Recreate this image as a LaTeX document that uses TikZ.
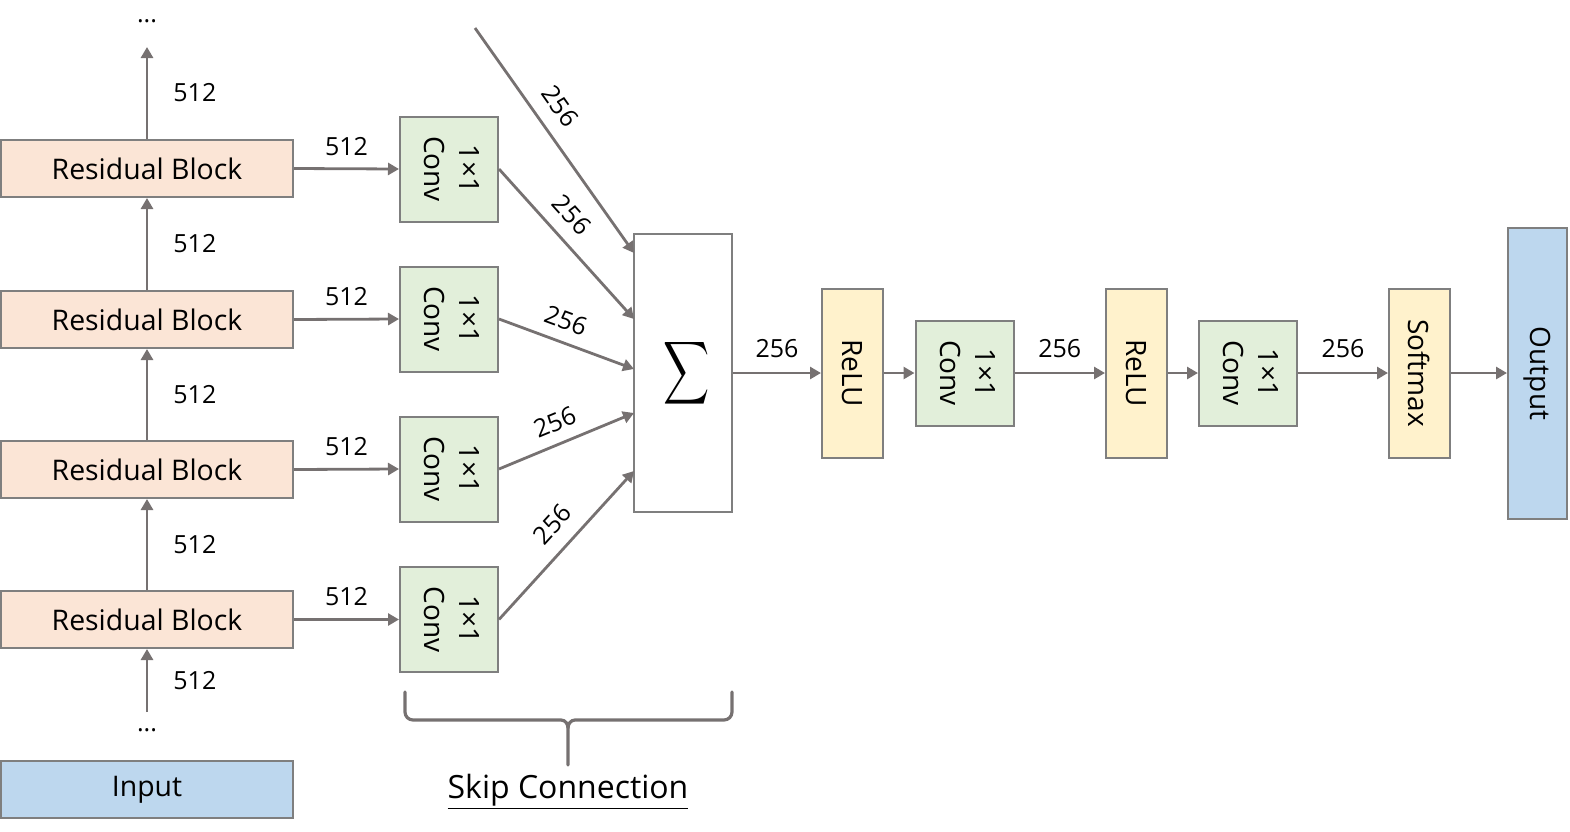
\documentclass[tikz,border=0pt]{standalone}
\usepackage{fontspec}
\setmainfont{Open Sans}
\usepackage{graphicx}
\usetikzlibrary{arrows.meta}
\definecolor{lgray}{HTML}{767171}
\definecolor{bgray}{HTML}{7F7F7F}
\definecolor{peach}{HTML}{FBE5D6}
\definecolor{lgreen}{HTML}{E2EFDA}
\definecolor{lyellow}{HTML}{FFF2CC}
\definecolor{lblue}{HTML}{BDD7EE}
\newcommand{\vtext}[1]{\rotatebox{-90}{\begin{tabular}{@{}c@{}}#1\end{tabular}}}
\begin{document}
\begin{tikzpicture}[x=0.5pt,y=-0.5pt,
 box/.style={draw=bgray,line width=1pt,inner sep=0pt,font=\fontsize{14.2}{17.5}\selectfont},
 resblk/.style={box,fill=peach,minimum width=146pt,minimum height=28.5pt},
 inblk/.style={box,fill=lblue,minimum width=146pt,minimum height=28.5pt},
 convblk/.style={box,fill=lgreen,minimum width=49pt,minimum height=52.5pt,font=\fontsize{14}{17.5}\selectfont},
 actblk/.style={box,fill=lyellow,minimum width=30.5pt,minimum height=84.5pt,font=\fontsize{14}{17.5}\selectfont},
 outblk/.style={box,fill=lblue,minimum width=29.5pt,minimum height=145.5pt,font=\fontsize{14}{17.5}\selectfont},
 sumblk/.style={box,fill=white,minimum width=49pt,minimum height=139pt},
 arr/.style={draw=lgray,line width=1.4pt,-{Triangle[length=5.5pt,width=6pt]}},
 lab/.style={font=\fontsize{12.5}{15}\selectfont,inner sep=2pt},
 brace/.style={draw=lgray,line width=1.6pt,line cap=round}
]
\useasboundingbox (0,0) rectangle (1570,831);

% residual column
\node[resblk] (r1) at (147,168.5) {Residual Block};
\node[resblk] (r2) at (147,319.5) {Residual Block};
\node[resblk] (r3) at (147,469.5) {Residual Block};
\node[resblk] (r4) at (147,619.5) {Residual Block};
\node[inblk] (in) at (147,789.5) {Input};
\node[lab,anchor=base] (dtop) at (147,22) {...};
\node[lab,anchor=base] (dbot) at (147,731) {...};
\coordinate (topend) at (147,47);
\coordinate (botstart) at (147,712);

\draw[arr] (r1.north) -- node[lab,right=10.5pt]{512} (topend);
\draw[arr] (r2.north) -- node[lab,right=10.5pt]{512} (r1.south);
\draw[arr] (r3.north) -- node[lab,right=10.5pt]{512} (r2.south);
\draw[arr] (r4.north) -- node[lab,right=10.5pt]{512} (r3.south);
\draw[arr] (botstart) -- node[lab,right=10.5pt]{512} (r4.south);

% conv column
\node[convblk] (c1) at (449,169) {\vtext{1×1\\Conv}};
\node[convblk] (c2) at (449,319) {\vtext{1×1\\Conv}};
\node[convblk] (c3) at (449,469) {\vtext{1×1\\Conv}};
\node[convblk] (c4) at (449,619.5) {\vtext{1×1\\Conv}};

\draw[arr] (r1.east) -- node[lab,above=4pt]{512} (c1.west);
\draw[arr] (r2.east) -- node[lab,above=4pt]{512} (c2.west);
\draw[arr] (r3.east) -- node[lab,above=4pt]{512} (c3.west);
\draw[arr] (r4.east) -- node[lab,above=4pt]{512} (c4.west);

% sum
\node[sumblk] (sig) at (683,373) {\hspace{3.5pt}\raisebox{-3pt}{\scalebox{1.6}[2.2]{$\displaystyle\sum$}}};
\coordinate (s0) at (634,253);
\coordinate (s1) at (634,319);
\coordinate (s2) at (634,369);
\coordinate (s3) at (634,413);
\coordinate (s4) at (634,471);
\coordinate (topin) at (475,28);

\draw[arr] (topin) -- node[lab,sloped,above=5pt,pos=0.41]{256} (s0);
\draw[arr] (c1.east) -- node[lab,sloped,above=4.5pt,pos=0.41]{256} (s1);
\draw[arr] (c2.east) -- node[lab,sloped,above=3.5pt,pos=0.44]{256} (s2);
\draw[arr] (c3.east) -- node[lab,sloped,above=3.5pt,pos=0.475]{256} (s3);
\draw[arr] (c4.east) -- node[lab,sloped,above=5pt,pos=0.53]{256} (s4);

% output chain
\node[actblk] (relu1) at (852.5,373) {\rotatebox{-90}{ReLU}};
\node[convblk] (ca) at (964.5,373) {\vtext{1×1\\Conv}};
\node[actblk] (relu2) at (1136.5,373) {\rotatebox{-90}{ReLU}};
\node[convblk] (cb) at (1248,373) {\vtext{1×1\\Conv}};
\node[actblk] (soft) at (1419.5,373) {\rotatebox{-90}{Softmax}};
\node[outblk] (out) at (1537.5,373.5) {\rotatebox{-90}{Output}};

\draw[arr] (sig.east) -- node[lab,above=5pt]{256} (relu1.west);
\draw[arr] (relu1.east) -- (ca.west);
\draw[arr] (ca.east) -- node[lab,above=5pt]{256} (relu2.west);
\draw[arr] (relu2.east) -- (cb.west);
\draw[arr] (cb.east) -- node[lab,above=5pt]{256} (soft.west);
\draw[arr] (soft.east) -- (soft.east -| out.west);

% brace
\coordinate (bl) at (405,692);
\coordinate (br) at (732,692);
\coordinate (bt) at (568,765);
\draw[brace] (bl) -- (405,712) to[out=-90,in=180] (413,720) -- (561,720) to[out=0,in=90] (568,728) -- (bt);
\draw[brace] (br) -- (732,712) to[out=-90,in=0] (724,720) -- (575,720) to[out=180,in=90] (568,728);
\node[font=\fontsize{16}{19}\selectfont,inner sep=0pt] (skip) at (568,792) {\underline{Skip Connection}};
\end{tikzpicture}
\end{document}
